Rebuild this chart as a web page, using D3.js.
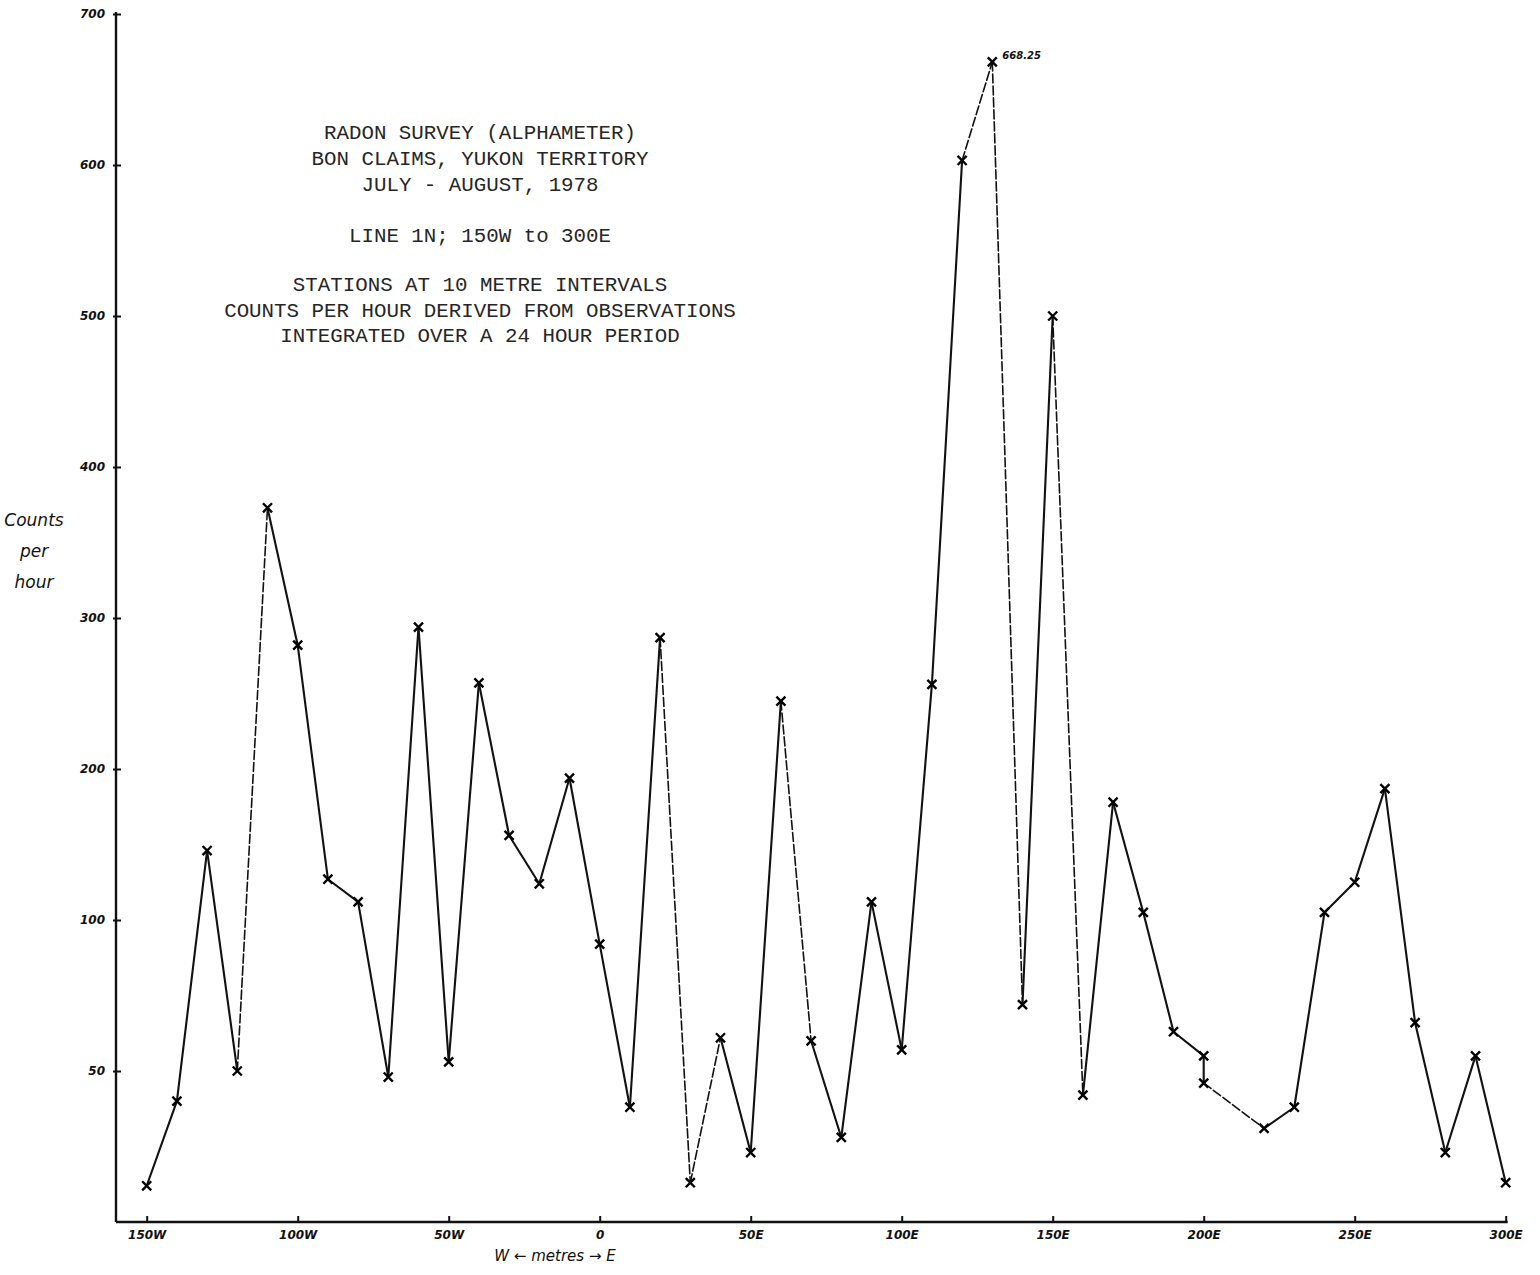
<!DOCTYPE html>
<html>
<head>
<meta charset="utf-8">
<script src="https://cdn.jsdelivr.net/npm/d3@7/dist/d3.min.js"></script>
<style>
  html, body { margin: 0; padding: 0; background: #fff; }
  svg { display: block; }
  .hand { font-family: "DejaVu Sans", sans-serif; font-style: italic; fill: #111; }
  .type { font-family: "Liberation Mono", "DejaVu Sans Mono", monospace; fill: #262626; }
</style>
</head>
<body>
<svg id="chart" width="1540" height="1275"></svg>
<script>
// ---- data ----
const stations = [-150,-140,-130,-120,-110,-100,-90,-80,-70,-60,-50,-40,-30,-20,-10,0,10,20,30,40,50,60,70,80,90,100,110,120,130,140,150,160,170,180,190,200,200,220,230,240,250,260,270,280,290,300];
const counts   = [12,40,146,50,373,282,127,112,48,294,53,257,156,124,194,92,38,287,13,61,23,245,60,28,112,57,256,603,668.25,72,500,42,178,105,63,55,46,31,38,105,125,187,66,23,55,13];
// segments (by starting station index) that appear as broken pen strokes
const faintSegments = [3,17,18,21,27,28,30,36];
const xTickValues = [-150,-100,-50,0,50,100,150,200,250,300];
const xTickLabels = ["150W","100W","50W","0","50E","100E","150E","200E","250E","300E"];
const yTickValues = [50,100,200,300,400,500,600,700];
const titleLines = [
  "RADON SURVEY (ALPHAMETER)",
  "BON CLAIMS, YUKON TERRITORY",
  "JULY - AUGUST, 1978",
  "",
  "LINE 1N; 150W to 300E",
  "",
  "STATIONS AT 10 METRE INTERVALS",
  "COUNTS PER HOUR DERIVED FROM OBSERVATIONS",
  "INTEGRATED OVER A 24 HOUR PERIOD"
];
const yLabelLines = ["Counts","per","hour"];
const peakLabel = "668.25";

// ---- layout ----
const svg = d3.select("#chart");
const axisX0 = 116, axisY0 = 1222;

const x = d3.scaleLinear().domain([-150, 300]).range([146.7, 1505.7]);
// hand-drawn scale: 50 per division below 100, 100 per division above
const y = d3.scaleLinear().domain([0, 50, 100, 700]).range([1222, 1071, 920, 14]);

const pts = stations.map((s, i) => ({s, v: counts[i], i}));

// axes
const gx = svg.append("g").attr("transform", `translate(0,${axisY0})`)
  .call(d3.axisBottom(x).tickValues(xTickValues)
    .tickFormat((d, i) => xTickLabels[i]).tickSizeInner(-6).tickSizeOuter(0).tickPadding(6));
gx.select(".domain").remove();
gx.selectAll(".tick line").attr("stroke", "#111").attr("stroke-width", 2);
gx.selectAll(".tick text").attr("class", "hand").style("font-weight", "bold")
  .attr("font-size", 12).attr("dy", "0.9em");
svg.append("line").attr("x1", axisX0).attr("x2", x(300) + 2)
  .attr("y1", axisY0).attr("y2", axisY0).attr("stroke", "#111").attr("stroke-width", 2.4);

const gy = svg.append("g").attr("transform", `translate(${axisX0},0)`)
  .call(d3.axisLeft(y).tickValues(yTickValues).tickFormat(d3.format("d"))
    .tickSizeInner(-5).tickSizeOuter(0).tickPadding(11));
gy.select(".domain").remove();
gy.selectAll(".tick line").attr("stroke", "#111").attr("stroke-width", 2).attr("x1", -3);
gy.selectAll(".tick text").attr("class", "hand").style("font-weight", "bold").attr("font-size", 12);
svg.append("line").attr("x1", axisX0).attr("x2", axisX0)
  .attr("y1", y(700) - 2).attr("y2", axisY0).attr("stroke", "#111").attr("stroke-width", 2.4);

// data line, segment by segment
const segs = d3.pairs(pts);
svg.append("g").selectAll("line").data(segs).join("line")
  .attr("x1", d => x(d[0].s)).attr("y1", d => y(d[0].v))
  .attr("x2", d => x(d[1].s)).attr("y2", d => y(d[1].v))
  .attr("stroke", "#111")
  .attr("stroke-width", d => faintSegments.includes(d[0].i) ? 1.6 : 2.1)
  .attr("stroke-dasharray", d => faintSegments.includes(d[0].i) ? "9,3" : null)
  .attr("stroke-linecap", "round");

// station markers
const sym = d3.symbol().type(d3.symbolTimes).size(55);
svg.append("g").selectAll("path").data(pts).join("path")
  .attr("d", sym)
  .attr("transform", d => `translate(${x(d.s)},${y(d.v)})`)
  .attr("fill", "none").attr("stroke", "#000").attr("stroke-width", 2.4);

// peak annotation
const peak = pts[d3.maxIndex(pts, d => d.v)];
svg.append("text").attr("class", "hand").style("font-weight", "bold").attr("font-size", 10)
  .attr("x", x(peak.s) + 10).attr("y", y(peak.v) - 3).text(peakLabel);

// title block (typewritten)
const lineH = 25.8;
svg.append("g").selectAll("text").data(titleLines).join("text")
  .attr("class", "type").attr("font-size", 20.8).attr("text-anchor", "middle")
  .attr("x", 480).attr("y", (d, i) => 139 + i * lineH - (i >= 6 ? 3 : 0))
  .text(d => d);

// y label (handwritten)
svg.append("g").selectAll("text").data(yLabelLines).join("text")
  .attr("class", "hand").style("font-weight", "normal").attr("font-size", 17)
  .attr("text-anchor", "middle").attr("x", 34)
  .attr("y", (d, i) => 526 + i * 31)
  .text(d => d);

// x label
svg.append("text").attr("class", "hand").style("font-weight", "normal").attr("font-size", 15)
  .attr("text-anchor", "middle").attr("x", 555).attr("y", 1261)
  .text("W \u2190 metres \u2192 E");
</script>
</body>
</html>
